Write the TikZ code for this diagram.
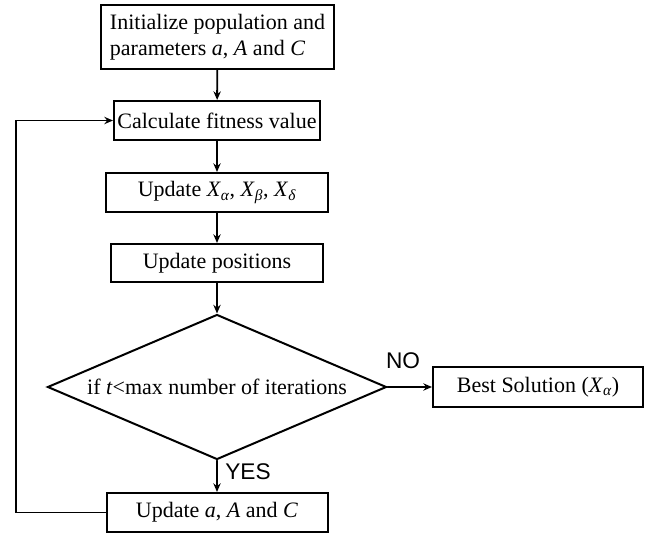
\documentclass[tikz,border=0pt]{standalone}
\usepackage{fontspec}
\setmainfont{Liberation Serif}
\newfontfamily\labelfont{Liberation Sans}
\usetikzlibrary{shapes.geometric,arrows.meta}
\newcommand{\Xs}[1]{\textit{X}\textsubscript{\itshape #1}}
\begin{document}
\begin{tikzpicture}[x=0.75pt,y=-0.75pt,line cap=round,
  box/.style={draw,line width=1.5pt,inner sep=0pt,font=\fontsize{16.5}{19.5}\selectfont},
  arr/.style={line width=1.4pt,-{Stealth[length=6.5pt,width=5.5pt]}},
  lbl/.style={font=\labelfont\fontsize{17}{20}\selectfont}]
  \useasboundingbox (0,0) rectangle (647,535);
  \node[box,minimum width=174.75pt,minimum height=48pt,align=left] (init) at (217.5,37) {Initialize population and\\parameters \textit{a}, \textit{A} and \textit{C}};
  \node[box,minimum width=154.5pt,minimum height=29.25pt] (calc) at (217,120.5) {Calculate fitness value};
  \node[box,minimum width=166.5pt,minimum height=29.25pt] (best3) at (217,192.5) {Update \Xs{α}, \Xs{β}, \Xs{δ}};
  \node[box,minimum width=159pt,minimum height=28.5pt] (pos) at (217,263) {Update positions};
  \node[box,diamond,aspect=2.34,minimum width=254.25pt,minimum height=108.75pt] (cond) at (217,387) {if \textit{t}<max number of iterations};
  \node[box,minimum width=157.5pt,minimum height=30pt] (sol) at (538,387) {Best Solution (\Xs{α})};
  \node[box,minimum width=165.75pt,minimum height=29.25pt] (upd) at (217,512.5) {Update \textit{a}, \textit{A} and \textit{C}};
  \node[lbl] (no) at (403,361) {NO};
  \node[lbl] (yes) at (248,472) {YES};
  \coordinate (corner) at (16,512.5);
  \draw[arr] (init) -- (calc);
  \draw[arr] (calc) -- (best3);
  \draw[arr] (best3) -- (pos);
  \draw[arr] (pos) -- (cond);
  \draw[arr] (cond) -- (sol);
  \draw[arr] (cond) -- (upd);
  \draw[arr] (upd.west) -- (upd.west -| corner) |- (calc.west);
\end{tikzpicture}
\end{document}
